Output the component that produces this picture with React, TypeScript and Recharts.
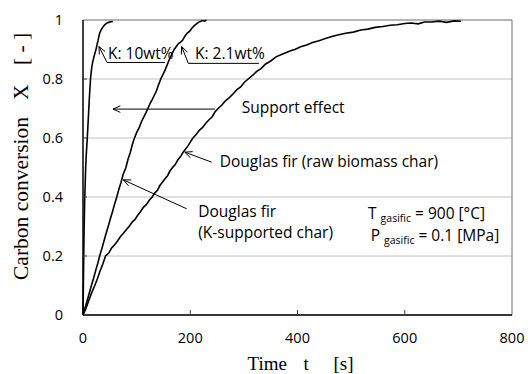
import React from 'react';
import { LineChart, Line, XAxis, YAxis, CartesianGrid, ReferenceLine, ReferenceDot, Label } from 'recharts';

// ---- data (time t [s], carbon conversion X [-]) ----
const k10Time = [0, 0.5, 1, 1.5, 2, 2.5, 3, 4, 5, 6, 7, 8, 10, 12, 14, 16, 18, 20, 22, 24, 26, 28, 31, 34, 37, 40, 44, 48, 52, 56];
const k10Conv = [0, 0.07, 0.15, 0.22, 0.28, 0.33, 0.38, 0.44, 0.5, 0.54, 0.57, 0.6, 0.67, 0.74, 0.8, 0.835, 0.857, 0.872, 0.886, 0.898, 0.915, 0.93, 0.955, 0.967, 0.976, 0.983, 0.989, 0.992, 0.994, 0.995];

const k21Time = [0, 4, 8, 12, 16, 20, 24, 28, 31, 35, 39, 43, 47, 51, 55, 59, 63, 67, 71, 75, 80, 84, 88, 92, 96, 100, 105, 109, 113, 117, 121, 125, 129, 133, 137, 141, 145, 149, 153, 157, 161, 165, 170, 174, 178, 182, 186, 190, 194, 199, 203, 207, 211, 215, 219, 223, 227, 230];
const k21Conv = [0, 0.025, 0.05, 0.076, 0.102, 0.126, 0.153, 0.178, 0.2, 0.224, 0.25, 0.276, 0.3, 0.326, 0.35, 0.376, 0.4, 0.427, 0.45, 0.477, 0.5, 0.528, 0.55, 0.578, 0.6, 0.618, 0.636, 0.655, 0.67, 0.684, 0.7, 0.717, 0.73, 0.745, 0.76, 0.781, 0.8, 0.815, 0.83, 0.848, 0.866, 0.882, 0.9, 0.91, 0.92, 0.925, 0.932, 0.945, 0.955, 0.962, 0.972, 0.98, 0.986, 0.992, 0.995, 0.998, 0.996, 1.0];

const rawTime = [0, 5, 10, 16, 22, 27, 32, 37, 42, 48, 53, 59, 64, 70, 75, 81, 86, 92, 97, 102, 107, 113, 118, 124, 129, 134, 139, 143, 148, 153, 158, 162, 167, 172, 177, 182, 186, 191, 196, 200, 205, 211, 217, 223, 229, 235, 241, 246, 252, 259, 266, 273, 280, 287, 294, 301, 308, 316, 324, 332, 340, 350, 360, 369, 378, 387, 395, 406, 417, 428, 440, 452, 464, 477, 490, 504, 518, 531, 545, 559, 573, 586, 600, 612, 625, 637, 650, 664, 678, 692, 705];
const rawConv = [0, 0.02, 0.045, 0.075, 0.1, 0.124, 0.15, 0.173, 0.2, 0.21, 0.226, 0.238, 0.25, 0.266, 0.276, 0.29, 0.3, 0.316, 0.324, 0.338, 0.35, 0.366, 0.374, 0.39, 0.4, 0.414, 0.423, 0.438, 0.45, 0.462, 0.473, 0.488, 0.5, 0.51, 0.526, 0.537, 0.55, 0.562, 0.574, 0.586, 0.6, 0.612, 0.626, 0.636, 0.65, 0.662, 0.672, 0.688, 0.7, 0.712, 0.727, 0.737, 0.75, 0.764, 0.773, 0.789, 0.8, 0.812, 0.826, 0.835, 0.85, 0.861, 0.875, 0.882, 0.889, 0.896, 0.9, 0.909, 0.915, 0.924, 0.93, 0.937, 0.944, 0.95, 0.955, 0.959, 0.966, 0.969, 0.975, 0.978, 0.982, 0.984, 0.988, 0.99, 0.987, 0.993, 0.993, 0.996, 0.992, 0.997, 0.996];

const xTicks = [0, 200, 400, 600, 800];
const yTicks = [0, 0.2, 0.4, 0.6, 0.8, 1];
const yTickLabels = ['0', '0.2', '0.4', '0.6', '0.8', '1'];

const toRows = (ts: number[], xs: number[]) => ts.map((t, i) => ({ time: t, conv: xs[i] }));
const k10Data = toRows(k10Time, k10Conv);
const k21Data = toRows(k21Time, k21Conv);
const rawData = toRows(rawTime, rawConv);

// ---- annotations (data coordinates) ----
const arrows = [
  { from: [44.8, 0.856], to: [29.8, 0.91] },
  { from: [196.4, 0.853], to: [184, 0.91] },
  { from: [246, 0.698], to: [56, 0.698] },
  { from: [240, 0.518], to: [189.8, 0.552] },
  { from: [193.4, 0.36], to: [75.2, 0.458] },
];
const plainLines = [
  { from: [44.8, 0.856], to: [152.9, 0.856] },
  { from: [196.4, 0.853], to: [328, 0.853] },
];
const notes = [
  { at: [46.6, 0.868], text: 'K: 10wt%' },
  { at: [208.9, 0.868], text: 'K: 2.1wt%' },
  { at: [295.9, 0.684], text: 'Support effect' },
  { at: [255, 0.502], text: 'Douglas fir (raw biomass char)' },
  { at: [214.9, 0.333], text: 'Douglas fir' },
  { at: [214.9, 0.26], text: '(K-supported char)' },
];
const conditionT = { at: [531.5, 0.327], main: 'T', sub: 'gasific', rest: ' = 900 [°C]' };
const conditionP = { at: [536.5, 0.252], main: 'P', sub: 'gasific', rest: ' = 0.1 [MPa]' };

const SANS = "'Open Sans', sans-serif";
const SERIF = "'Liberation Serif', 'Times New Roman', serif";
const X_TICK_MARGIN = 18;
const Y_TICK_MARGIN = 20;

const ArrowShape = (props: any) => {
  const { x1, y1, x2, y2 } = props;
  const ang = Math.atan2(y2 - y1, x2 - x1);
  const len = 8;
  const spread = 0.42;
  const ax = x2 - len * Math.cos(ang - spread);
  const ay = y2 - len * Math.sin(ang - spread);
  const bx = x2 - len * Math.cos(ang + spread);
  const by = y2 - len * Math.sin(ang + spread);
  return (
    <g>
      <line x1={x1} y1={y1} x2={x2} y2={y2} stroke="#000" strokeWidth={1} />
      <polyline points={`${ax},${ay} ${x2},${y2} ${bx},${by}`} fill="none" stroke="#000" strokeWidth={1} />
    </g>
  );
};

const PlainShape = (props: any) => {
  const { x1, y1, x2, y2 } = props;
  return <line x1={x1} y1={y1} x2={x2} y2={y2} stroke="#000" strokeWidth={1} />;
};

const XTick = (props: any) => {
  const { x, y, payload } = props;
  const axisY = y - X_TICK_MARGIN;
  const v = payload.value;
  const mark = v > 0 && v < 800;
  return (
    <g>
      {mark && <line x1={x} x2={x} y1={axisY} y2={axisY - 5} stroke="#404040" strokeWidth={1} />}
      <text x={x} y={y} dy="0.71em" textAnchor="middle" fontFamily={SANS} fontSize={14.5} fill="#000">
        {v}
      </text>
    </g>
  );
};

const YTick = (props: any) => {
  const { x, y, payload } = props;
  const axisX = x + Y_TICK_MARGIN;
  const v = payload.value;
  const idx = yTicks.indexOf(v);
  const mark = v > 0 && v < 1;
  return (
    <g>
      {mark && <line x1={axisX} x2={axisX + 4} y1={y} y2={y} stroke="#404040" strokeWidth={1} />}
      <text x={x} y={y} dy="0.36em" textAnchor="end" fontFamily={SANS} fontSize={14.5} fill="#000">
        {idx >= 0 ? yTickLabels[idx] : v}
      </text>
    </g>
  );
};

const XTitle = (props: any) => {
  const { viewBox } = props;
  const x0 = viewBox.x + viewBox.width / 2 - 50;
  const base = viewBox.y + 55;
  return (
    <text y={base} fontFamily={SERIF} fontSize={19} fill="#000">
      <tspan x={x0}>Time</tspan>
      <tspan x={x0 + 56}>t</tspan>
      <tspan x={x0 + 86}>[s]</tspan>
    </text>
  );
};

const YTitle = (props: any) => {
  const { viewBox } = props;
  const start = viewBox.y + viewBox.height - 35;
  const base = 28;
  return (
    <text transform="rotate(-90)" y={base} fontFamily={SERIF} fontSize={21.5} fill="#000">
      <tspan x={-start}>Carbon conversion</tspan>
      <tspan x={-start + 180}>X</tspan>
      <tspan x={-start + 215}>[ - ]</tspan>
    </text>
  );
};

const noteShape = (text: string) => (p: any) => (
  <text x={p.cx} y={p.cy} fontFamily={SANS} fontSize={15.5} fill="#000">
    {text}
  </text>
);

const condShape = (c: any) => (p: any) => (
  <text x={p.cx} y={p.cy} fontFamily={SANS} fontSize={15.5} fill="#000">
    <tspan>{c.main} </tspan>
    <tspan fontSize={10.5} dy={3}>{c.sub}</tspan>
    <tspan dy={-3}>{c.rest}</tspan>
  </text>
);

export default function App() {
  return (
    <div style={{ position: 'absolute', left: 0, top: 0, width: 528, height: 374, background: '#fff' }}>
      <LineChart width={528} height={374} margin={{ top: 20, right: 16, bottom: 0, left: 0 }}>
        <CartesianGrid horizontal vertical={false} stroke="#c0c0c0" strokeWidth={1} />
        <XAxis
          type="number"
          dataKey="time"
          domain={[0, 800]}
          ticks={xTicks}
          interval={0}
          height={59}
          tickSize={0}
          tickMargin={X_TICK_MARGIN}
          tick={<XTick />}
          axisLine={{ stroke: '#000', strokeWidth: 1.5 }}
          tickLine={false}
          label={<Label content={<XTitle />} />}
        />
        <YAxis
          type="number"
          dataKey="conv"
          domain={[0, 1]}
          ticks={yTicks}
          interval={0}
          width={83}
          tickSize={0}
          tickMargin={Y_TICK_MARGIN}
          tick={<YTick />}
          axisLine={{ stroke: '#000', strokeWidth: 1.5 }}
          tickLine={false}
          label={<Label content={<YTitle />} />}
        />
        <ReferenceLine y={1} stroke="#8a8a8a" strokeWidth={1} />
        <ReferenceLine x={800} stroke="#6e6e6e" strokeWidth={1} />
        <Line data={k10Data} dataKey="conv" stroke="#000" strokeWidth={1.6} dot={false} isAnimationActive={false} type="linear" />
        <Line data={k21Data} dataKey="conv" stroke="#000" strokeWidth={1.6} dot={false} isAnimationActive={false} type="linear" />
        <Line data={rawData} dataKey="conv" stroke="#000" strokeWidth={1.6} dot={false} isAnimationActive={false} type="linear" />
        {arrows.map((a, i) => (
          <ReferenceLine
            key={`a${i}`}
            segment={[{ x: a.from[0], y: a.from[1] }, { x: a.to[0], y: a.to[1] }]}
            shape={ArrowShape}
            ifOverflow="visible"
          />
        ))}
        {plainLines.map((a, i) => (
          <ReferenceLine
            key={`p${i}`}
            segment={[{ x: a.from[0], y: a.from[1] }, { x: a.to[0], y: a.to[1] }]}
            shape={PlainShape}
            ifOverflow="visible"
          />
        ))}
        {notes.map((n, i) => (
          <ReferenceDot key={`n${i}`} x={n.at[0]} y={n.at[1]} r={0} shape={noteShape(n.text)} ifOverflow="visible" />
        ))}
        <ReferenceDot x={conditionT.at[0]} y={conditionT.at[1]} r={0} shape={condShape(conditionT)} ifOverflow="visible" />
        <ReferenceDot x={conditionP.at[0]} y={conditionP.at[1]} r={0} shape={condShape(conditionP)} ifOverflow="visible" />
      </LineChart>
    </div>
  );
}
